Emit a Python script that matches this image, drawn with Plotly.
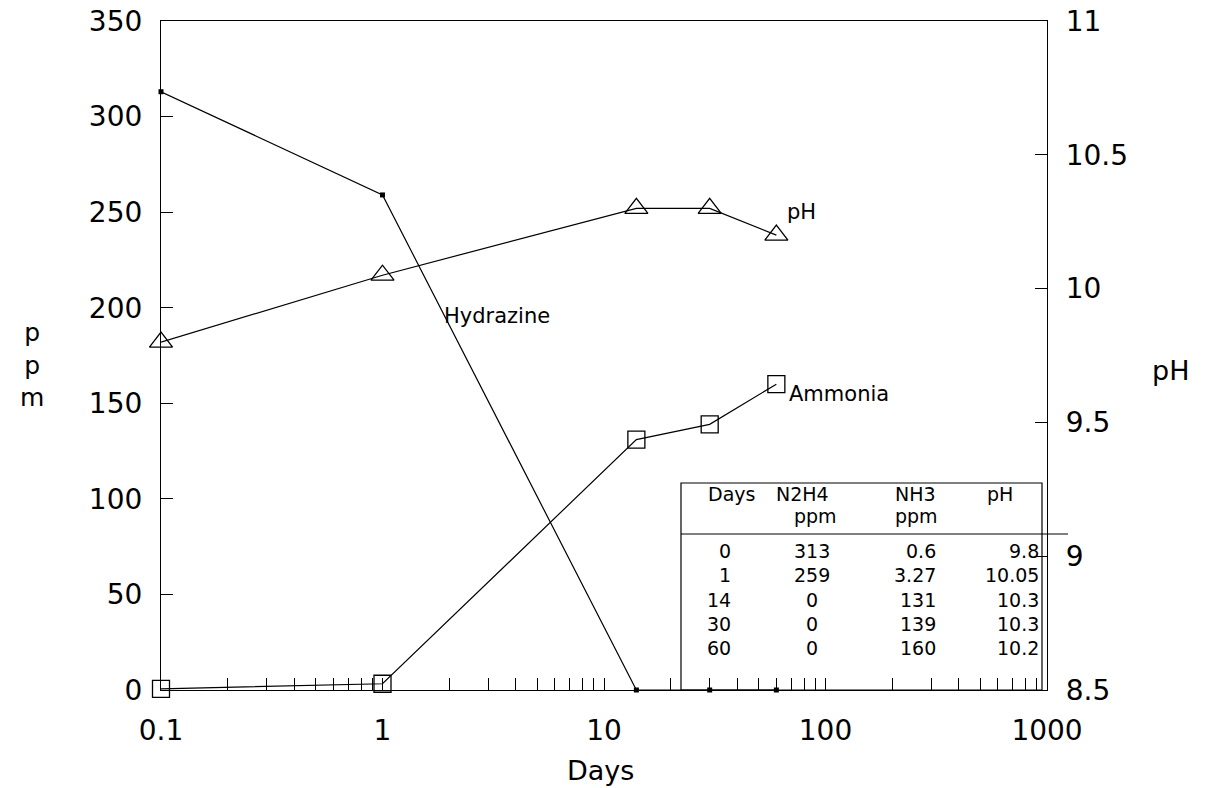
import plotly.graph_objects as go

# ---------------- data ----------------
days_plot = [0.1, 1, 14, 30, 60]          # day 0 drawn at 0.1 on the log axis
hydrazine_ppm = [313, 259, 0, 0, 0]
ammonia_ppm = [0.6, 3.27, 131, 139, 160]
ph_values = [9.8, 10.05, 10.3, 10.3, 10.2]

x_tick_vals = [0.1, 1, 10, 100, 1000]
x_tick_text = ["0.1", "1", "10", "100", "1000"]
ppm_tick_vals = [0, 50, 100, 150, 200, 250, 300, 350]
ph_tick_vals = [8.5, 9, 9.5, 10, 10.5, 11]
ph_tick_text = ["8.5", "9", "9.5", "10", "10.5", "11"]

table_header1 = ["Days", "N2H4", "NH3", "pH"]
table_header2 = ["", "ppm", "ppm", ""]
table_days = ["0", "1", "14", "30", "60"]
table_n2h4 = ["313", "259", "0", "0", "0"]
table_nh3 = ["0.6", "3.27", "131", "139", "160"]
table_ph = ["9.8", "10.05", "10.3", "10.3", "10.2"]

# ---------------- layout helpers ----------------
W, H = 1208, 788
L, R, T, B = 161, 1047, 21, 690
FONT = "DejaVu Sans"


def px(x):
    return (x - L) / (R - L)


def py(y):
    return (B - y) / (B - T)


minor_vals = [k * 10 ** e for e in range(-1, 3) for k in range(2, 10)]

fig = go.Figure()

fig.add_trace(go.Scatter(
    x=days_plot, y=hydrazine_ppm, mode="lines+markers", name="Hydrazine",
    line=dict(color="black", width=1.2),
    marker=dict(symbol="square", size=5, color="black"),
    cliponaxis=False, showlegend=False))

fig.add_trace(go.Scatter(
    x=days_plot, y=ammonia_ppm, mode="lines+markers", name="Ammonia",
    line=dict(color="black", width=1.2),
    marker=dict(symbol="square-open", size=17, color="black", line=dict(width=1.3)),
    cliponaxis=False, showlegend=False))

fig.add_trace(go.Scatter(
    x=days_plot, y=ph_values, mode="lines+markers", name="pH", yaxis="y2",
    line=dict(color="black", width=1.2),
    marker=dict(symbol="triangle-up-open", size=20, color="black", line=dict(width=1.3)),
    cliponaxis=False, showlegend=False))

annotations = []


def text(x, y, s, size=21, xanchor="center"):
    annotations.append(dict(x=px(x), y=py(y), xref="paper", yref="paper", text=s,
                            showarrow=False, xanchor=xanchor, yanchor="middle",
                            font=dict(family=FONT, size=size, color="black")))


# series labels
text(442, 316, "Hydrazine", xanchor="left")
text(785, 212, "pH", xanchor="left")
text(787, 394, "Ammonia", xanchor="left")

# axis titles
text(600, 770, "Days", size=27)
text(32, 365, "p<br>p<br>m", size=25)
text(1170, 370, "pH", size=27)

# table
TS = 19
hdr_x = [731, 802, 915, 1000]
for s, x in zip(table_header1, hdr_x):
    text(x, 494, s, size=TS)
hdr2_x = [731, 815, 916, 1000]
for s, x in zip(table_header2, hdr2_x):
    if s:
        text(x, 516, s, size=TS)
row_y = [551, 575, 600, 624, 648]
for i, yy in enumerate(row_y):
    text(733, yy, table_days[i], size=TS, xanchor="right")
    text(812, yy, table_n2h4[i], size=TS)
    text(938, yy, table_nh3[i], size=TS, xanchor="right")
    text(1041, yy, table_ph[i], size=TS, xanchor="right")

shapes = [
    dict(type="rect", xref="paper", yref="paper", x0=px(681), x1=px(1042), y0=0, y1=py(483),
         line=dict(color="black", width=1.2), fillcolor="rgba(0,0,0,0)"),
    dict(type="line", xref="paper", yref="paper", x0=px(681), x1=px(1068), y0=py(534), y1=py(534),
         line=dict(color="black", width=1.2)),
]

fig.update_layout(
    width=W, height=H,
    margin=dict(l=L, r=W - R, t=T, b=H - B, autoexpand=False),
    paper_bgcolor="white", plot_bgcolor="white",
    font=dict(family=FONT, size=28, color="black"),
    showlegend=False,
    xaxis=dict(type="log", range=[-1, 3], tickmode="array", tickvals=x_tick_vals,
               ticktext=x_tick_text, ticks="inside", ticklen=12, tickcolor="black",
               tickwidth=1, showline=True, linecolor="black", linewidth=1.2, mirror=True,
               showgrid=False, zeroline=False, ticklabelstandoff=15, automargin=False,
               minor=dict(tickmode="array", tickvals=minor_vals, ticks="inside",
                          ticklen=12, tickcolor="black", tickwidth=1, showgrid=False),
               tickfont=dict(family=FONT, size=28)),
    yaxis=dict(range=[0, 350], tickmode="array", tickvals=ppm_tick_vals, ticks="inside",
               ticklen=12, tickcolor="black", showline=True, linecolor="black",
               linewidth=1.2, showgrid=False, zeroline=False, ticklabelstandoff=12,
               automargin=False, tickfont=dict(family=FONT, size=28)),
    yaxis2=dict(range=[8.5, 11], overlaying="y", side="right", tickmode="array",
                tickvals=ph_tick_vals, ticktext=ph_tick_text, ticks="inside", ticklen=12,
                tickcolor="black", showline=True, linecolor="black", linewidth=1.2,
                showgrid=False, zeroline=False, ticklabelstandoff=12, automargin=False,
                tickfont=dict(family=FONT, size=28)),
    annotations=annotations,
    shapes=shapes,
)

fig.write_html("out.html")
